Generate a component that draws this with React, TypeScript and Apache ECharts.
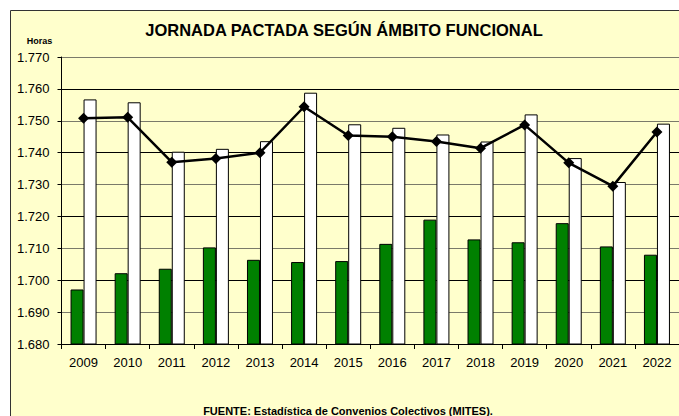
import React, { useEffect, useRef } from "react";
import * as echarts from "echarts";

const years = ["2009", "2010", "2011", "2012", "2013", "2014", "2015", "2016", "2017", "2018", "2019", "2020", "2021", "2022"];
const greenSeries = [1697.1, 1702.2, 1703.6, 1710.3, 1706.4, 1705.7, 1706.0, 1711.4, 1719.0, 1712.8, 1711.9, 1717.9, 1710.6, 1708.0];
const whiteSeries = [1756.7, 1755.8, 1740.3, 1741.2, 1743.6, 1758.8, 1748.9, 1747.8, 1745.7, 1743.5, 1752.0, 1738.3, 1730.8, 1749.1];
const lineSeries = [1750.8, 1751.1, 1737.0, 1738.2, 1740.0, 1754.4, 1745.4, 1745.0, 1743.5, 1741.4, 1748.7, 1736.8, 1729.5, 1746.5];
const yMin = 1680;
const yMax = 1770;
const yStep = 10;

const titleText = "JORNADA PACTADA SEGÚN ÁMBITO FUNCIONAL";
const unitText = "Horas";
const sourceText = "FUENTE: Estadística de Convenios Colectivos (MITES).";

const fmt = (v: number) => {
  const s = String(Math.round(v));
  return s.slice(0, 1) + "." + s.slice(1);
};

export default function App() {
  const ref = useRef<HTMLDivElement>(null);
  useEffect(() => {
    if (!ref.current) return;
    const chart = echarts.init(ref.current, undefined, { renderer: "svg" });
    const axisFont = "'Liberation Sans', Arial, sans-serif";
    chart.setOption({
      animation: false,
      backgroundColor: "#ffffff",
      graphic: [
        {
          type: "rect",
          z: -10,
          shape: { x: 10.5, y: 10.5, width: 700, height: 440 },
          style: { fill: "#FFFFCC", stroke: "#333333", lineWidth: 1 },
        },
        {
          type: "text",
          x: 344,
          y: 29.5,
          style: {
            text: titleText,
            font: "bold 16.5px 'Liberation Sans', Arial, sans-serif",
            fill: "#000",
            textAlign: "center",
            textVerticalAlign: "middle",
          },
        },
        {
          type: "text",
          x: 39.5,
          y: 41,
          style: {
            text: unitText,
            font: "bold 9px 'Liberation Sans', Arial, sans-serif",
            fill: "#000",
            textAlign: "center",
            textVerticalAlign: "middle",
          },
        },
        {
          type: "text",
          x: 348,
          y: 410.5,
          style: {
            text: sourceText,
            font: "bold 11px 'Liberation Sans', Arial, sans-serif",
            fill: "#000",
            textAlign: "center",
            textVerticalAlign: "middle",
          },
        },
      ],
      grid: { left: 61.5, right: -1, top: 57, bottom: 72, containLabel: false },
      xAxis: {
        type: "category",
        data: years,
        axisLine: { lineStyle: { color: "#000", width: 1 } },
        axisTick: { show: true, length: 5, lineStyle: { color: "#000" } },
        axisLabel: { color: "#000", fontFamily: axisFont, fontSize: 13, margin: 12 },
        splitLine: { show: false },
      },
      yAxis: {
        type: "value",
        min: yMin,
        max: yMax,
        interval: yStep,
        axisLine: { show: true, lineStyle: { color: "#000", width: 1 } },
        axisTick: { show: true, length: 4, lineStyle: { color: "#000" } },
        axisLabel: { color: "#000", fontFamily: axisFont, fontSize: 13, margin: 12, formatter: fmt },
        splitLine: { show: true, lineStyle: { color: ["#000000", "#7a7a6a"], width: 1 } },
      },
      series: [
        {
          type: "bar",
          data: greenSeries,
          barWidth: 13,
          barGap: "0%",
          itemStyle: { color: "#008000", borderColor: "#000", borderWidth: 1 },
        },
        {
          type: "bar",
          data: whiteSeries,
          barWidth: 13,
          barGap: "0%",
          itemStyle: { color: "#ffffff", borderColor: "#000", borderWidth: 1 },
        },
        {
          type: "line",
          data: lineSeries,
          symbol: "diamond",
          symbolSize: 11,
          lineStyle: { color: "#000", width: 2.5 },
          itemStyle: { color: "#000" },
          z: 5,
        },
      ],
    });
    return () => chart.dispose();
  }, []);
  return <div ref={ref} style={{ position: "fixed", left: 0, top: 0, width: 679, height: 416 }} />;
}
